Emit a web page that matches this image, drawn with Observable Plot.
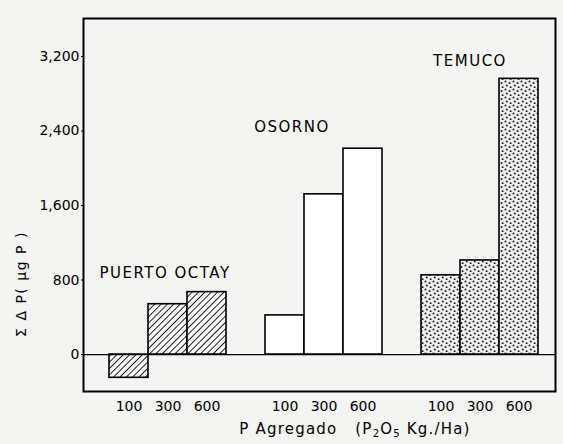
<!DOCTYPE html>
<html>
<head>
<meta charset="utf-8">
<script src="https://cdn.jsdelivr.net/npm/d3@7"></script>
<script src="https://cdn.jsdelivr.net/npm/@observablehq/plot@0.6"></script>
<style>
  html, body { margin: 0; padding: 0; background: #f4f4f2; }
  #chart { width: 563px; height: 444px; }
  svg { font-family: "DejaVu Sans", sans-serif; }
</style>
</head>
<body>
<div id="chart"></div>
<script>
// ---- data ----
const sites = ["PUERTO OCTAY", "OSORNO", "TEMUCO"];
const doses = ["100", "300", "600"];
const puertoOctay = [-250, 540, 670];
const osorno = [420, 1720, 2210];
const temuco = [850, 1010, 2960];
const yTicks = [0, 800, 1600, 2400, 3200];
const yTickLabels = ["0", "800", "1,600", "2,400", "3,200"];
const labelDose = ["300", "100", "300"];
const labelValue = [870, 2440, 3150];
const yLabel = "Σ Δ P( µg P )";

// ---- build table ----
const seriesBySite = [puertoOctay, osorno, temuco];
const patterns = ["url(#hatch)", "white", "url(#dots)"];
const rows = [];
sites.forEach((s, i) => doses.forEach((d, j) => rows.push({site: s, dose: d, key: s + "|" + d, value: seriesBySite[i][j]})));
const xDomain = [];
sites.forEach((s, i) => {
  doses.forEach(d => xDomain.push(s + "|" + d));
  if (i < sites.length - 1) xDomain.push("gap" + i);
});
const labels = sites.map((s, i) => ({site: s, key: s + "|" + labelDose[i], value: labelValue[i]}));
const labelDx = [-3, 7, -10];

const barMarks = sites.map((s, i) =>
  Plot.barY(rows.filter(r => r.site === s), {
    x: "key", y: "value", fill: patterns[i], stroke: "black", strokeWidth: 1.6
  })
);

const chart = Plot.plot({
  width: 563,
  height: 444,
  marginLeft: 83,
  marginRight: 8,
  marginTop: 18,
  marginBottom: 53,
  style: {background: "transparent", fontFamily: "DejaVu Sans, sans-serif", fontSize: "14px", color: "black"},
  x: {
    domain: xDomain, range: [109, 538], padding: 0,
    tickSize: 0, tickPadding: 10,
    tickFormat: k => k.startsWith("gap") ? "" : k.split("|")[1],
    label: null
  },
  y: {
    domain: [-397, 3608],
    ticks: yTicks,
    tickFormat: v => yTickLabels[yTicks.indexOf(v)],
    tickSize: 2, tickPadding: 2,
    label: null
  },
  marks: [
    ...barMarks,
    Plot.ruleY([0], {stroke: "black", strokeWidth: 1.3}),
    Plot.frame({stroke: "black", strokeWidth: 2}),
    ...labels.map((l, i) => Plot.text([l], {
      x: "key", y: "value", text: "site", dx: labelDx[i],
      fontSize: 15, fill: "black"
    }))
  ]
});

// pattern defs
const svg = d3.select(chart.tagName.toLowerCase() === "svg" ? chart : chart.querySelector("svg"));
const defs = svg.insert("defs", ":first-child");
const hatch = defs.append("pattern").attr("id", "hatch").attr("patternUnits", "userSpaceOnUse")
  .attr("width", 4.5).attr("height", 4.5).attr("patternTransform", "rotate(45)");
hatch.append("rect").attr("width", 4.5).attr("height", 4.5).attr("fill", "#f7f7f7");
hatch.append("line").attr("x1", 0).attr("y1", 0).attr("x2", 0).attr("y2", 4.5)
  .attr("stroke", "#111").attr("stroke-width", 1.8);
const dots = defs.append("pattern").attr("id", "dots").attr("patternUnits", "userSpaceOnUse")
  .attr("width", 8).attr("height", 8);
dots.append("rect").attr("width", 8).attr("height", 8).attr("fill", "#efefed");
[[1.5, 1.5], [5.5, 3.0], [2.8, 5.6], [6.6, 7.2]].forEach(([cx, cy]) =>
  dots.append("circle").attr("cx", cx).attr("cy", cy).attr("r", 1.0).attr("fill", "#222"));

// text mark letter spacing
svg.selectAll("g[aria-label='text'] text").style("letter-spacing", "1.5px");

// axis titles
svg.append("text")
  .attr("transform", "translate(22,284) rotate(-90)")
  .attr("text-anchor", "middle").attr("dominant-baseline", "middle")
  .style("font-size", "14px").style("letter-spacing", "1.5px")
  .text(yLabel);
const xt = svg.append("text")
  .attr("x", 355).attr("y", 434)
  .attr("text-anchor", "middle")
  .style("font-size", "15px").style("letter-spacing", "1.2px");
xt.append("tspan").text("P Agregado   (P");
xt.append("tspan").attr("dy", 3).style("font-size", "10px").text("2");
xt.append("tspan").attr("dy", -3).text("O");
xt.append("tspan").attr("dy", 3).style("font-size", "10px").text("5");
xt.append("tspan").attr("dy", -3).text(" Kg./Ha)");

document.getElementById("chart").appendChild(chart);
</script>
</body>
</html>
